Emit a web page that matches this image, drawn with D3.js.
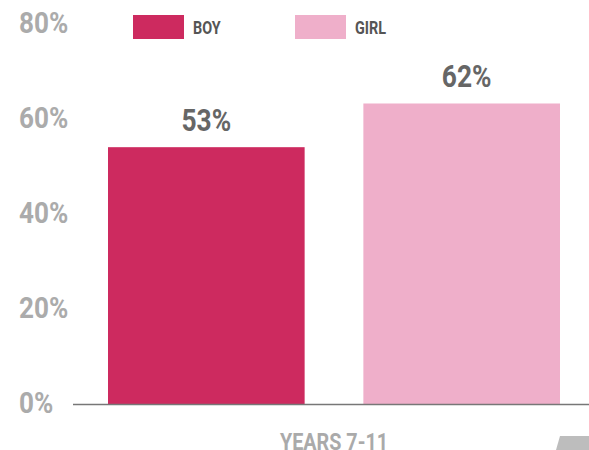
<!DOCTYPE html>
<html>
<head lang="en">
  <meta charset="UTF-8">
  <title>Boy vs Girl, Years 7-11</title>
</head>
<style>
  body { margin: 0; background: #fff; }
  #chart text { font-family: "Roboto", "DejaVu Sans Condensed", sans-serif; font-weight: bold; }
  .tick-label { fill: #ababab; font-size: 29px; }
  .value-label { fill: #666; font-size: 31px; }
  .legend-label { fill: #555; font-size: 18px; }
  .x-title { fill: #aaa; font-size: 23px; }
</style>
<body>

<svg id="chart" width="589" height="450"></svg>

<script src="https://cdn.jsdelivr.net/npm/d3@7"></script>
<script>
  var groups = ['BOY', 'GIRL'];
  var values = [0.53, 0.62];
  var colors = ['#cd2a5f', '#efafca'];
  var yTicks = [0, 0.2, 0.4, 0.6, 0.8];
  var xTitle = 'YEARS 7-11';

  var svg = d3.select('#chart');

  var y = d3.scaleLinear().domain([0, 1]).range([404.5, -81]);
  var x = d3.scaleBand().domain(groups).range([108, 560])
      .paddingInner(0.23).paddingOuter(0);
  var fmt = d3.format('.0%');

  // the original font is a narrow one, so squeeze text horizontally
  function place(px, py, sx) {
    return 'translate(' + px + ',' + py + ') scale(' + sx + ',1)';
  }

  // y labels, no ticks or gridlines
  svg.selectAll('.tick-label')
      .data(yTicks)
      .enter()
      .append('text')
      .attr('class', 'tick-label')
      .attr('transform', function (d) { return place(19, y(d) + 8.5 + d * 10, 0.9); })
      .text(fmt);

  // bars
  svg.selectAll('.bar')
      .data(values)
      .enter()
      .append('rect')
      .attr('class', 'bar')
      .attr('x', function (d, i) { return x(groups[i]); })
      .attr('y', y)
      .attr('width', x.bandwidth())
      .attr('height', function (d) { return y(0) - y(d); })
      .attr('fill', function (d, i) { return colors[i]; });

  svg.selectAll('.value-label')
      .data(values)
      .enter()
      .append('text')
      .attr('class', 'value-label')
      .attr('text-anchor', 'middle')
      .attr('transform', function (d, i) {
        return place(x(groups[i]) + x.bandwidth() / 2 + i * 5, y(d) - 16, 0.85);
      })
      .text(fmt);

  // baseline
  svg.append('line')
      .attr('x1', 73).attr('x2', 589)
      .attr('y1', y(0)).attr('y2', y(0))
      .attr('stroke', '#777').attr('stroke-width', 1.5);

  svg.append('text')
      .attr('class', 'x-title')
      .attr('text-anchor', 'middle')
      .attr('transform', place((x.range()[0] + x.range()[1]) / 2, 449.5, 0.86))
      .text(xTitle);

  // legend
  var legendX = [133, 295];
  var legend = svg.selectAll('.legend')
      .data(groups)
      .enter()
      .append('g')
      .attr('class', 'legend')
      .attr('transform', function (d, i) { return 'translate(' + legendX[i] + ',15)'; });

  legend.append('rect')
      .attr('width', 51).attr('height', 24)
      .attr('fill', function (d, i) { return colors[i]; });

  legend.append('text')
      .attr('class', 'legend-label')
      .attr('transform', place(60, 19, 0.8))
      .text(function (d) { return d; });

  // grey tab bottom right
  svg.append('path')
      .attr('d', 'M560,436 L589,436 L589,450 L556,450 Z')
      .attr('fill', '#bdbdbd');
</script>
</body>
</html>
